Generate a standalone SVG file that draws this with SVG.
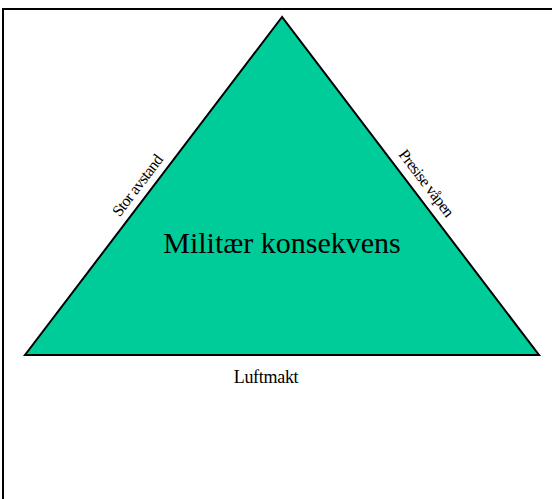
<svg xmlns="http://www.w3.org/2000/svg" width="552" height="499" viewBox="0 0 552 499">
<style>
.lbl{font-family:"Liberation Serif","Times New Roman",serif;fill:#000}
.edge{font-size:16px;letter-spacing:-0.6px}
</style>
<rect width="552" height="499" fill="#fff"/>
<path d="M3,499 V9 H552" fill="none" stroke="#000" stroke-width="2"/>
<g id="triangle">
<polygon points="282,17 25,355 539,355" fill="#00CC99" stroke="#000" stroke-width="2" stroke-linejoin="miter"/>
<text class="lbl" x="282" y="253" font-size="30" text-anchor="middle">Militær konsekvens</text>
</g>
<g id="labels">
<g id="left-edge"><text class="lbl edge" text-anchor="middle" transform="translate(148,193.6) rotate(-52.7)" x="0" y="-8">Stor avstand</text></g>
<g id="right-edge"><text class="lbl edge" text-anchor="middle" transform="translate(415,191.7) rotate(52.7)" x="0" y="-9">Presise våpen</text></g>
<g id="base"><text class="lbl" font-size="18" letter-spacing="-0.3" text-anchor="middle" x="266" y="383">Luftmakt</text></g>
</g>
</svg>
